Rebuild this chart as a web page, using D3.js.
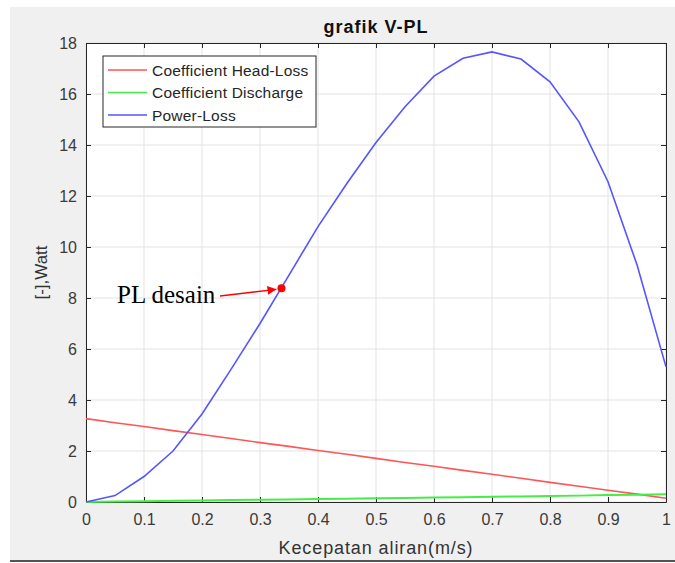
<!DOCTYPE html>
<html>
<head>
<meta charset="utf-8">
<script src="https://cdn.jsdelivr.net/npm/d3@7"></script>
<style>
  body { margin: 0; background: #fff; }
  svg { display: block; }
  text { font-family: "Liberation Sans", Arial, sans-serif; }
</style>
</head>
<body>
<svg id="chart" width="675" height="563"></svg>
<script>
//Chart data
var velocity = [0, 0.05, 0.1, 0.15, 0.2, 0.25, 0.3, 0.35, 0.4, 0.45, 0.5,
  0.55, 0.6, 0.65, 0.7, 0.75, 0.8, 0.85, 0.9, 0.95, 1.0];
var headLoss = [3.27, 3.11, 2.96, 2.80, 2.65, 2.49, 2.33, 2.18, 2.02, 1.87, 1.71,
  1.55, 1.40, 1.24, 1.09, 0.93, 0.77, 0.62, 0.46, 0.31, 0.15];
var discharge = [0, 0.02, 0.03, 0.05, 0.06, 0.08, 0.09, 0.10, 0.12, 0.13, 0.15,
  0.16, 0.18, 0.19, 0.21, 0.22, 0.24, 0.25, 0.27, 0.28, 0.30];
var powerLoss = [0, 0.25, 1.0, 2.0, 3.45, 5.2, 7.0, 8.9, 10.8, 12.5, 14.1,
  15.5, 16.7, 17.4, 17.65, 17.37, 16.48, 14.91, 12.56, 9.3, 5.3];
var xTicks = [0, 0.1, 0.2, 0.3, 0.4, 0.5, 0.6, 0.7, 0.8, 0.9, 1];
var yTicks = [0, 2, 4, 6, 8, 10, 12, 14, 16, 18];
var seriesNames = ["Coefficient Head-Loss", "Coefficient Discharge", "Power-Loss"];
var seriesColors = ["#ff5555", "#44ee44", "#5555ff"];
var designPoint = {x: 0.337, y: 8.38, label: "PL desain"};

var svg = d3.select("#chart");

//Figure background like matlab
svg.append("rect").attr("x", 10).attr("y", 7).attr("width", 665).attr("height", 554)
  .attr("fill", "#f0f0f0");
svg.append("line").attr("x1", 10).attr("x2", 675).attr("y1", 561).attr("y2", 561)
  .attr("stroke", "#555").attr("stroke-width", 2);

var box = {left: 86, right: 666, top: 43, bottom: 502};
var x = d3.scaleLinear().domain([0, 1]).range([box.left, box.right]);
var y = d3.scaleLinear().domain([0, 18]).range([box.bottom, box.top]);

//Plot area
svg.append("rect").attr("x", box.left).attr("y", box.top)
  .attr("width", box.right - box.left).attr("height", box.bottom - box.top).attr("fill", "#fff");

//Grid
var grid = svg.append("g").attr("stroke", "#e3e3e3").attr("stroke-width", 1);
xTicks.forEach(function(t){
  grid.append("line").attr("x1", x(t)).attr("x2", x(t)).attr("y1", box.top).attr("y2", box.bottom);
});
yTicks.forEach(function(t){
  grid.append("line").attr("x1", box.left).attr("x2", box.right).attr("y1", y(t)).attr("y2", y(t));
});

//Axes with inward ticks
var axisColor = "#262626";
var fmt = function(d){ return d3.format("")(d); };
var xAxis = svg.append("g").attr("transform", "translate(0," + box.bottom + ")")
  .call(d3.axisBottom(x).tickValues(xTicks).tickFormat(fmt).tickSizeInner(-5).tickSizeOuter(0).tickPadding(12));
var yAxis = svg.append("g").attr("transform", "translate(" + box.left + ",0)")
  .call(d3.axisLeft(y).tickValues(yTicks).tickFormat(fmt).tickSizeInner(-5).tickSizeOuter(0).tickPadding(9));
var xTop = svg.append("g").attr("transform", "translate(0," + box.top + ")")
  .call(d3.axisTop(x).tickValues(xTicks).tickFormat("").tickSizeInner(-5).tickSizeOuter(0));
var yRight = svg.append("g").attr("transform", "translate(" + box.right + ",0)")
  .call(d3.axisRight(y).tickValues(yTicks).tickFormat("").tickSizeInner(-5).tickSizeOuter(0));
[xAxis, yAxis, xTop, yRight].forEach(function(a){
  a.selectAll("path, line").attr("stroke", axisColor);
  a.selectAll("text").attr("fill", "#3a3a3a").style("font-size", "16px")
    .style("font-family", "'Liberation Sans', Arial, sans-serif");
});

//Lines
var allSeries = [headLoss, discharge, powerLoss];
var line = d3.line().x(function(d, i){ return x(velocity[i]); }).y(function(d){ return y(d); });
allSeries.forEach(function(s, i){
  svg.append("path").datum(s).attr("d", line).attr("fill", "none")
    .attr("stroke", seriesColors[i]).attr("stroke-width", i == 1 ? 2 : 1.6);
});

//Legend
var lg = svg.append("g");
lg.append("rect").attr("x", 103).attr("y", 56).attr("width", 213).attr("height", 71)
  .attr("fill", "#fff").attr("stroke", axisColor).attr("stroke-width", 1);
seriesNames.forEach(function(n, i){
  var ly = 70 + i * 22.5;
  lg.append("line").attr("x1", 108).attr("x2", 147).attr("y1", ly).attr("y2", ly)
    .attr("stroke", seriesColors[i]).attr("stroke-width", 1.6);
  lg.append("text").attr("x", 152).attr("y", ly + 5.5).text(n)
    .attr("fill", "#262626").style("font-size", "15.5px").style("letter-spacing", "0.2px");
});

//Titles
svg.append("text").attr("x", (box.left + box.right) / 2).attr("y", 33).attr("text-anchor", "middle")
  .style("font-size", "18px").style("font-weight", "bold").style("letter-spacing", "1px")
  .attr("fill", "#111").text("grafik V-PL");
svg.append("text").attr("x", (box.left + box.right) / 2).attr("y", 554).attr("text-anchor", "middle")
  .style("font-size", "18px").style("letter-spacing", "0.9px").attr("fill", "#333").text("Kecepatan aliran(m/s)");
svg.append("text").attr("transform", "translate(47," + ((box.top + box.bottom) / 2) + ") rotate(-90)")
  .attr("text-anchor", "middle").style("font-size", "17px").attr("fill", "#333").text("[-],Watt");

//Design point annotation
svg.append("defs").append("marker").attr("id", "arrow").attr("viewBox", "0 0 10 10")
  .attr("refX", 10).attr("refY", 5).attr("markerWidth", 9).attr("markerHeight", 9)
  .attr("orient", "auto").attr("markerUnits", "userSpaceOnUse")
  .append("path").attr("d", "M0,0 L10,5 L0,10 z").attr("fill", "#ff0000");
svg.append("line").attr("x1", 220).attr("y1", 296)
  .attr("x2", x(designPoint.x) - 5).attr("y2", y(designPoint.y) + 1)
  .attr("stroke", "#ff0000").attr("stroke-width", 1.3).attr("marker-end", "url(#arrow)");
svg.append("circle").attr("cx", x(designPoint.x)).attr("cy", y(designPoint.y)).attr("r", 4)
  .attr("fill", "#ff0000");
svg.append("text").attr("x", 117).attr("y", 303).text(designPoint.label)
  .style("font-family", "'Liberation Serif', 'Times New Roman', serif").style("font-size", "25px")
  .attr("fill", "#000");
</script>
</body>
</html>
